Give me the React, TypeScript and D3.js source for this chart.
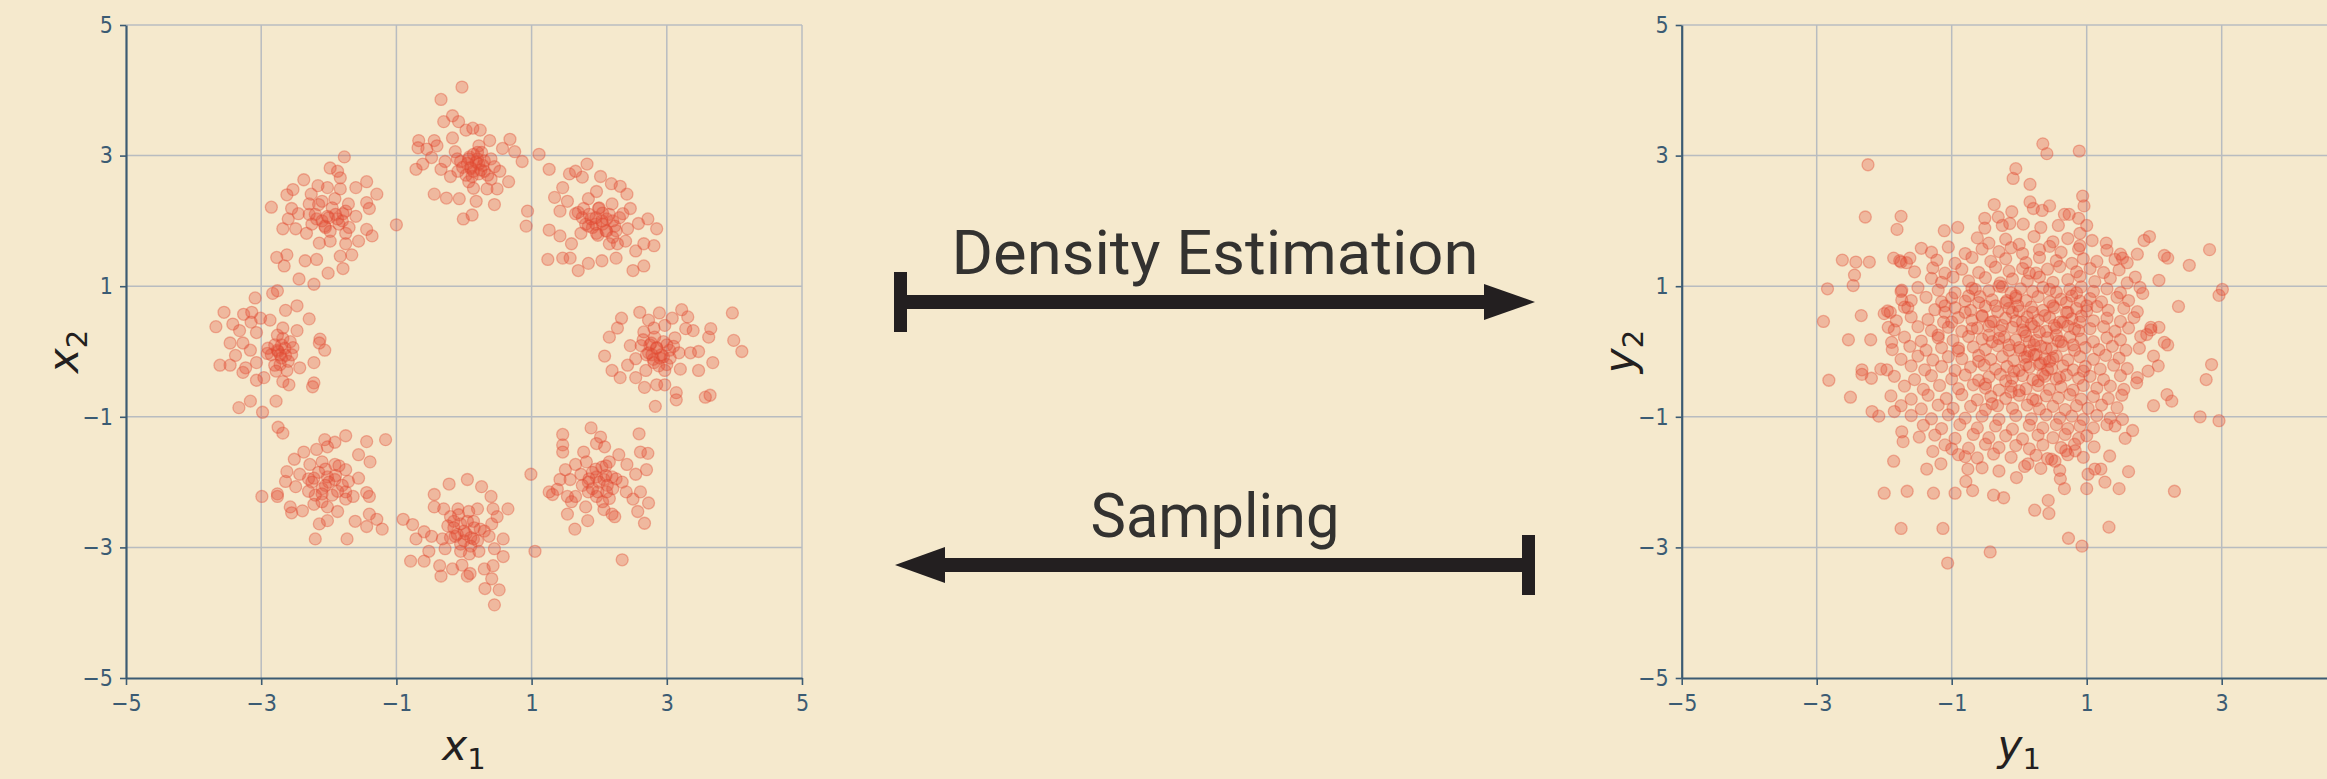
import React, { useEffect, useRef } from "react";
import * as d3 from "d3";

type Pt = [number, number];

// axis ticks and grid positions (same for both panels)
const tickValues = [-5, -3, -1, 1, 3, 5];
const tickValuesRightX = [-5, -3, -1, 1, 3]; // the 5 label falls outside the picture
const gridValues = [-3, -1, 1, 3, 5];

// --- left panel: 8 gaussians on a ring ---
const clusterTop: Pt[] = [
  [-0.03, 4.05], [-0.34, 3.86], [-0.17, 3.61], [-0.3, 3.52], [-0.08, 3.52], [0.03, 3.39], [0.13, 3.42],
  [0.24, 3.39], [-0.17, 3.27], [-0.67, 3.23], [-0.44, 3.23], [-0.68, 3.12], [-0.71, 2.79], [-0.61, 2.87],
  [-0.44, 2.41], [-0.26, 2.35], [-0.01, 2.03], [0.12, 2.09], [-0.07, 2.34], [0.18, 2.3], [0.45, 2.25],
  [0.49, 2.49], [0.4, 2.64], [0.66, 2.6], [0.68, 3.25], [0.57, 3.11], [0.75, 3.06], [0.86, 2.91],
  [0.38, 3.23], [0.22, 3.15], [-0.28, 2.91], [-0.34, 2.79], [-0.2, 2.68], [-0.09, 2.76], [0.07, 2.95],
  [0.14, 3.02], [0.22, 2.87], [0.14, 2.76], [0.03, 2.7], [0.3, 2.76], [0.45, 2.83], [0.53, 2.76],
  [0.34, 2.49], [0.14, 2.5], [-0.55, 3.1], [-0.48, 2.97], [-0.4, 3.15], [-0.13, 3.06], [-0.05, 2.91],
  [0.07, 2.6], [1.11, 3.02], [0.2, 2.95], [0.1, 2.82], [0.26, 3.05],
  [0.1, 2.8], [0.18, 2.9], [0.25, 2.78], [0.05, 2.88], [0.3, 2.92], [0.2, 3.05], [0.12, 2.68],
  [-0.02, 2.82], [0.35, 2.7], [0.28, 2.85], [0.08, 2.98], [0.22, 2.72], [-0.1, 2.95], [0.4, 2.95],
];
const clusterNE: Pt[] = [
  [1.82, 2.87], [1.26, 2.79], [1.56, 2.72], [1.65, 2.76], [1.75, 2.67], [2.02, 2.68], [1.96, 2.45],
  [2.18, 2.57], [2.31, 2.53], [2.41, 2.41], [1.46, 2.51], [1.34, 2.36], [1.53, 2.3], [1.42, 2.15],
  [1.65, 2.11], [1.77, 2.19], [1.88, 2.03], [1.99, 2.19], [2.11, 2.03], [2.23, 1.92], [2.35, 2.11],
  [2.46, 2.19], [2.58, 1.96], [2.72, 2.03], [2.85, 1.88], [2.81, 1.62], [2.66, 1.65], [2.66, 1.31],
  [2.5, 1.24], [2.54, 1.54], [2.39, 1.69], [2.15, 1.65], [2.25, 1.43], [2.04, 1.39], [1.84, 1.35],
  [1.69, 1.24], [1.57, 1.43], [1.46, 1.43], [1.24, 1.41], [1.42, 1.77], [1.26, 1.86], [1.59, 1.65],
  [1.73, 1.81], [1.96, 1.81], [2.11, 1.84], [2.27, 1.65], [1.69, 2.13], [2.04, 2.0], [2.19, 2.26],
  [1.84, 2.34], [0.94, 2.15], [0.92, 1.92], [1.84, 1.92], [2.42, 1.88], [2.2, 1.75], [1.95, 1.95],
  [1.95, 2.05], [2.05, 1.95], [1.85, 2.1], [2.15, 2.1], [2.1, 1.85], [1.9, 1.9], [2.2, 2.0],
  [1.75, 2.05], [2.0, 2.2], [2.25, 1.85], [1.8, 1.95], [2.05, 2.12], [2.3, 2.05], [1.98, 1.78],
];
const clusterE: Pt[] = [
  [3.97, 0.59], [3.99, 0.17], [4.11, 0.0], [3.65, 0.35], [3.62, 0.22], [3.68, -0.17], [3.64, -0.67],
  [3.57, -0.7], [3.14, -0.63], [3.14, -0.74], [2.83, -0.84], [3.22, 0.64], [3.31, 0.53], [3.39, 0.32],
  [3.47, 0.0], [3.47, -0.29], [3.28, 0.35], [3.08, 0.51], [2.89, 0.59], [2.73, 0.48], [2.6, 0.6],
  [2.33, 0.51], [2.15, 0.22], [2.27, 0.36], [2.08, -0.07], [2.19, -0.29], [2.31, -0.4], [2.42, -0.21],
  [2.54, -0.4], [2.62, 0.09], [2.46, 0.09], [2.73, -0.02], [2.85, 0.06], [2.95, -0.08], [3.04, 0.02],
  [3.18, -0.02], [2.81, -0.17], [2.69, -0.29], [2.97, -0.51], [2.85, -0.51], [2.67, -0.55], [3.2, -0.27],
  [2.97, -0.29], [3.12, 0.21], [2.66, 0.3], [2.97, 0.4], [2.81, 0.36], [2.54, -0.11], [3.35, -0.02],
  [2.77, 0.13], [2.9, -0.1], [2.78, -0.05], [3.0, 0.1],
  [2.85, 0.05], [2.92, -0.05], [2.75, 0.1], [3.05, -0.1], [2.8, -0.12], [2.95, 0.15], [2.7, -0.05],
  [3.1, 0.08], [2.88, -0.22], [2.65, 0.18], [3.0, -0.2], [2.82, 0.22],
];
const clusterSE: Pt[] = [
  [1.88, -1.17], [1.46, -1.27], [1.46, -1.43], [1.46, -1.54], [2.02, -1.31], [1.96, -1.41], [2.08, -1.46],
  [2.59, -1.26], [2.61, -1.54], [2.72, -1.56], [2.29, -1.58], [1.77, -1.54], [1.65, -1.73], [1.81, -1.69],
  [2.15, -1.69], [2.41, -1.73], [2.7, -1.81], [2.54, -1.88], [1.5, -1.81], [1.42, -1.96], [0.99, -1.88],
  [1.38, -2.11], [1.31, -2.19], [1.57, -1.96], [1.73, -1.88], [1.84, -2.0], [1.96, -1.92], [2.07, -1.96],
  [2.19, -1.92], [2.34, -2.0], [2.4, -2.15], [2.61, -2.15], [2.73, -2.32], [2.5, -2.26], [2.11, -2.15],
  [1.96, -2.22], [1.84, -2.15], [1.65, -2.22], [1.53, -2.22], [1.59, -2.3], [1.53, -2.49], [1.8, -2.38],
  [1.83, -2.59], [1.64, -2.72], [2.07, -2.42], [2.19, -2.49], [2.23, -2.53], [2.57, -2.45], [2.67, -2.63],
  [2.34, -3.19], [1.05, -3.06], [1.26, -2.15], [2.04, -1.77], [2.12, -2.05], [1.9, -1.85],
  [2.0, -2.0], [2.1, -1.9], [1.9, -2.1], [2.2, -2.1], [1.95, -1.8], [2.15, -2.25], [1.85, -1.95],
  [2.05, -2.3], [2.25, -1.95], [1.75, -2.05], [2.1, -1.75], [1.98, -2.15],
];
const clusterS: Pt[] = [
  [0.05, -1.96], [-0.22, -2.03], [0.26, -2.07], [-0.44, -2.19], [0.4, -2.22], [-0.44, -2.38], [-0.3, -2.41],
  [-0.09, -2.41], [0.07, -2.45], [0.2, -2.41], [0.43, -2.41], [0.65, -2.41], [0.49, -2.53], [-0.9, -2.57],
  [-0.76, -2.65], [-0.2, -2.53], [-0.24, -2.67], [-0.05, -2.64], [0.14, -2.6], [0.24, -2.72], [0.41, -2.64],
  [-0.59, -2.76], [-0.48, -2.83], [-0.71, -2.87], [-0.32, -2.87], [-0.13, -2.83], [0.03, -2.79], [0.14, -2.87],
  [0.37, -2.83], [0.58, -2.87], [-0.52, -3.06], [-0.28, -3.02], [-0.05, -3.06], [0.1, -2.98], [0.22, -3.06],
  [0.45, -3.02], [0.58, -3.14], [-0.79, -3.21], [-0.59, -3.21], [-0.36, -3.28], [-0.17, -3.33], [0.09, -3.4],
  [0.3, -3.33], [0.43, -3.28], [0.41, -3.48], [0.31, -3.63], [0.52, -3.65], [0.45, -3.88], [-0.34, -3.44],
  [-0.03, -3.27], [0.05, -3.44], [-0.15, -2.7], [0.0, -2.9],
  [0.0, -2.75], [0.1, -2.85], [-0.1, -2.8], [0.05, -2.6], [-0.05, -2.95], [0.15, -2.7], [0.2, -2.9],
  [-0.15, -2.6], [-0.2, -2.85], [0.08, -3.1], [0.3, -2.75], [-0.08, -2.5],
];
const clusterSW: Pt[] = [
  [-1.75, -1.29], [-1.16, -1.35], [-1.44, -1.38], [-2.06, -1.35], [-1.91, -1.39], [-2.37, -1.54], [-2.18, -1.5],
  [-2.02, -1.46], [-1.56, -1.58], [-1.39, -1.69], [-2.51, -1.65], [-2.28, -1.73], [-2.1, -1.69], [-1.91, -1.73],
  [-1.75, -1.81], [-2.62, -1.84], [-2.43, -1.88], [-2.22, -1.94], [-2.02, -1.92], [-1.71, -1.99], [-1.56, -1.94],
  [-2.64, -1.99], [-2.49, -2.07], [-2.3, -2.14], [-2.1, -2.18], [-1.87, -2.14], [-1.64, -2.22], [-1.44, -2.16],
  [-1.4, -2.22], [-2.76, -2.18], [-2.99, -2.22], [-2.76, -2.22], [-2.57, -2.38], [-2.39, -2.44], [-2.22, -2.34],
  [-2.02, -2.38], [-1.87, -2.45], [-2.14, -2.64], [-2.02, -2.59], [-1.61, -2.6], [-1.4, -2.49], [-1.29, -2.57],
  [-1.44, -2.68], [-1.21, -2.72], [-2.2, -2.87], [-1.73, -2.87], [-2.55, -2.47], [-1.75, -2.26], [-1.91, -1.96],
  [-2.05, -2.05], [-2.2, -2.2],
  [-2.0, -2.0], [-1.9, -1.9], [-2.1, -2.1], [-1.8, -2.05], [-2.15, -1.85], [-1.95, -2.2], [-2.25, -2.0],
  [-1.85, -1.75], [-2.05, -1.8], [-1.75, -2.15], [-2.3, -1.95], [-2.1, -2.3],
];
const clusterW: Pt[] = [
  [-3.09, 0.82], [-3.55, 0.6], [-2.83, 0.89], [-2.76, 0.93], [-2.47, 0.7], [-2.64, 0.63], [-3.26, 0.57],
  [-3.14, 0.6], [-3.01, 0.51], [-2.87, 0.48], [-2.29, 0.5], [-3.15, 0.45], [-3.42, 0.42], [-3.67, 0.38],
  [-2.68, 0.36], [-2.47, 0.32], [-2.13, 0.19], [-3.32, 0.32], [-3.07, 0.29], [-2.76, 0.25], [-2.57, 0.15],
  [-2.14, 0.13], [-3.46, 0.13], [-3.27, 0.13], [-2.06, 0.02], [-3.38, -0.06], [-3.16, 0.02], [-2.91, -0.03],
  [-2.76, 0.02], [-2.64, -0.06], [-2.53, 0.06], [-3.61, -0.21], [-3.46, -0.21], [-3.23, -0.25], [-3.07, -0.17],
  [-2.8, -0.21], [-2.62, -0.29], [-2.43, -0.25], [-2.22, -0.17], [-3.27, -0.32], [-2.96, -0.4], [-2.68, -0.46],
  [-2.59, -0.51], [-3.07, -0.44], [-2.22, -0.48], [-2.24, -0.54], [-3.16, -0.76], [-2.78, -0.76], [-3.33, -0.86],
  [-2.98, -0.93], [-2.75, -1.16], [-2.68, -1.25], [-2.72, -0.05], [-2.7, 0.1],
  [-2.75, 0.0], [-2.7, -0.1], [-2.8, 0.1], [-2.65, 0.05], [-2.72, -0.2], [-2.85, -0.05], [-2.6, -0.15],
  [-2.9, 0.05], [-2.68, 0.2], [-2.78, -0.3], [-2.55, -0.05],
];
const clusterNW: Pt[] = [
  [-1.77, 2.98], [-1.98, 2.81], [-1.87, 2.76], [-1.83, 2.66], [-2.37, 2.63], [-1.44, 2.6], [-2.16, 2.54],
  [-2.02, 2.51], [-2.53, 2.48], [-2.62, 2.4], [-2.26, 2.41], [-1.6, 2.51], [-1.29, 2.41], [-1.83, 2.49],
  [-2.85, 2.21], [-2.55, 2.19], [-2.29, 2.26], [-2.1, 2.3], [-1.91, 2.34], [-1.71, 2.26], [-1.44, 2.28],
  [-1.4, 2.19], [-2.29, 2.1], [-2.18, 2.03], [-2.02, 2.07], [-1.87, 2.03], [-1.6, 2.07], [-2.6, 2.03],
  [-2.68, 1.88], [-2.49, 1.88], [-2.33, 1.81], [-1.98, 1.84], [-1.75, 1.81], [-1.44, 1.87], [-1.36, 1.77],
  [-1.0, 1.94], [-2.14, 1.66], [-1.98, 1.69], [-1.75, 1.65], [-1.56, 1.69], [-2.77, 1.44], [-2.62, 1.48],
  [-2.35, 1.39], [-2.18, 1.41], [-1.83, 1.46], [-1.66, 1.48], [-2.66, 1.31], [-1.79, 1.27], [-2.01, 1.2],
  [-2.44, 1.11], [-2.22, 1.03], [-2.45, 2.11], [-2.06, 1.92], [-1.79, 2.11],
  [-2.0, 2.05], [-1.9, 2.1], [-2.1, 2.0], [-1.85, 1.95], [-2.2, 2.1], [-1.95, 2.2], [-2.05, 1.9],
  [-1.75, 2.15], [-2.25, 1.95], [-1.8, 2.0], [-2.15, 2.25], [-1.7, 1.9],
];

// --- right panel: standard normal sample ---
const gaussOuter: Pt[] = [
  [0.35, 3.18], [0.41, 3.03], [0.89, 3.07], [-2.24, 2.86], [-0.05, 2.8], [-0.09, 2.65], [0.16, 2.56],
  [0.94, 2.38], [0.96, 2.23], [0.16, 2.29], [0.21, 2.19], [-0.37, 2.25], [-0.11, 2.14], [0.34, 2.16],
  [0.45, 2.23], [-2.28, 2.06], [-1.75, 2.07], [-1.81, 1.87], [-1.11, 1.85], [-0.91, 1.9], [-0.31, 2.06],
  [-0.51, 2.04], [-0.51, 1.89], [-0.25, 1.93], [-0.14, 1.96], [0.06, 1.95], [0.32, 1.9], [0.67, 2.1],
  [0.74, 2.1], [0.88, 2.04], [1.0, 1.93], [0.9, 1.81], [0.58, 1.93], [1.93, 1.76], [1.85, 1.7],
  [1.29, 1.66], [2.82, 1.56], [2.52, 1.32], [2.15, 1.47], [2.2, 1.43], [1.75, 1.49], [1.53, 1.43],
  [2.07, 1.09], [1.72, 1.14], [1.79, 0.98], [1.83, 0.89], [2.36, 0.69], [2.96, 0.86], [3.01, 0.95],
  [2.85, -0.2], [2.77, -0.43], [2.68, -1.0], [2.96, -1.06], [2.26, -0.76], [2.19, -0.66], [1.99, -0.83],
  [2.3, -2.14], [2.06, -0.22], [1.99, -0.07], [2.2, 0.1], [2.15, 0.14], [2.07, 0.37], [1.95, 0.37],
  [1.89, 0.26], [1.74, -0.48], [1.91, -0.3], [-2.84, 0.96], [-2.9, 0.46], [-2.62, 1.4], [-2.42, 1.37],
  [-2.22, 1.37], [-2.44, 1.17], [-2.46, 1.01], [-2.34, 0.55], [-2.53, 0.18], [-2.33, -0.28], [-2.33, -0.35],
  [-2.19, -0.41], [-2.82, -0.44], [-2.5, -0.7], [-2.18, -0.92], [-2.08, -0.99], [-2.0, 0.58], [-1.91, 0.6],
  [-1.94, 0.37], [-1.89, 0.14], [-1.96, -0.28], [-1.86, 1.43], [-1.77, 1.39], [-1.67, 1.36], [-1.74, 0.94],
  [-1.74, 0.79], [-1.65, 0.67], [-2.0, -2.17], [-1.75, -2.71], [-1.66, -2.14], [-1.86, -1.68], [-1.74, -1.23],
  [-1.72, -1.38], [-1.48, -1.31], [-1.27, -2.17], [-1.13, -2.71], [-1.06, -3.24], [-0.95, -2.17], [-0.43, -3.07],
  [-0.38, -2.2], [-0.23, -2.24], [-0.69, -2.13], [-0.79, -1.99], [-0.76, -1.8], [-0.8, -1.61], [-1.37, -1.8],
  [-1.28, -1.53], [-1.16, -1.72], [-1.0, -1.49], [-1.85, -0.92], [1.33, -2.69], [0.73, -2.86], [0.93, -2.98],
  [0.23, -2.43], [0.43, -2.28], [0.44, -2.48], [-0.04, -1.93], [0.08, -1.76], [0.13, -1.72], [0.67, -2.1],
  [0.61, -1.95], [1.0, -2.1], [1.02, -1.88], [1.12, -1.8], [1.21, -1.8], [1.27, -2.0], [1.48, -2.1],
  [1.62, -1.84], [1.34, -1.6], [0.48, -1.65], [0.53, -1.68], [0.69, -1.52], [0.83, -1.52], [1.11, -1.46],
  [1.57, -1.33], [1.68, -1.21], [1.53, -1.04], [1.42, -1.14],
];
const gaussCore: Pt[] = [
  [-0.62, 1.74], [-0.45, 1.66], [-0.2, 1.72], [0.0, 1.64], [0.22, 1.76], [0.5, 1.68], [0.72, 1.73], [0.9, 1.62], [1.08, 1.7],
  [-1.45, 1.58], [-1.3, 1.52], [-1.05, 1.6], [-0.8, 1.5], [-0.55, 1.57], [-0.3, 1.53], [-0.12, 1.59], [0.05, 1.5],
  [0.3, 1.56], [0.45, 1.61], [0.62, 1.52], [0.88, 1.57], [1.3, 1.55], [1.5, 1.49],
  [-1.75, 1.37], [-1.62, 1.43], [-1.22, 1.4], [-0.95, 1.35], [-0.7, 1.44], [-0.42, 1.38], [-0.2, 1.42], [0.1, 1.36],
  [0.3, 1.44], [0.55, 1.39], [0.78, 1.35], [0.95, 1.42], [1.15, 1.38], [1.42, 1.41], [1.6, 1.36],
  [-1.55, 1.22], [-1.28, 1.28], [-1.1, 1.2], [-0.85, 1.26], [-0.6, 1.21], [-0.35, 1.29], [-0.15, 1.23], [0.05, 1.27],
  [0.25, 1.2], [0.42, 1.26], [0.6, 1.3], [0.85, 1.22], [1.05, 1.27], [1.25, 1.21], [1.48, 1.25],
  [-1.3, 1.12], [-1.15, 1.06], [-0.98, 1.14], [-0.75, 1.08], [-0.5, 1.13], [-0.28, 1.05], [-0.1, 1.11], [0.12, 1.08],
  [0.3, 1.14], [0.5, 1.06], [0.72, 1.1], [0.9, 1.15], [1.12, 1.07], [1.35, 1.12], [1.6, 1.05],
  [-1.75, 0.92], [-1.5, 0.98], [-1.2, 0.94], [-0.95, 0.9], [-0.7, 0.97], [-0.45, 0.93], [-0.25, 0.99], [-0.12, 0.9],
  [0.02, 0.96], [0.2, 0.92], [0.35, 0.98], [0.55, 0.91], [0.75, 0.95], [0.92, 0.99], [1.1, 0.92], [1.3, 0.96], [1.5, 0.9],
  [-1.6, 0.78], [-1.38, 0.83], [-1.15, 0.76], [-1.0, 0.82], [-0.8, 0.77], [-0.58, 0.84], [-0.4, 0.79], [-0.2, 0.75],
  [-0.05, 0.82], [0.1, 0.78], [0.28, 0.84], [0.45, 0.76], [0.62, 0.8], [0.78, 0.85], [0.9, 0.77], [1.05, 0.81],
  [1.22, 0.76], [1.45, 0.83], [1.62, 0.78],
  [-1.95, 0.62], [-1.7, 0.68], [-1.25, 0.64], [-1.1, 0.6], [-0.95, 0.67], [-0.72, 0.63], [-0.5, 0.69], [-0.32, 0.61],
  [-0.15, 0.66], [0.0, 0.62], [0.18, 0.68], [0.35, 0.63], [0.52, 0.67], [0.7, 0.6], [0.85, 0.66], [1.0, 0.62],
  [1.15, 0.69], [1.32, 0.63], [1.55, 0.66], [1.75, 0.61],
  [-1.82, 0.47], [-1.6, 0.53], [-1.35, 0.49], [-1.12, 0.45], [-0.9, 0.52], [-0.7, 0.48], [-0.55, 0.54], [-0.38, 0.46],
  [-0.2, 0.51], [-0.05, 0.47], [0.12, 0.53], [0.28, 0.48], [0.45, 0.52], [0.6, 0.45], [0.78, 0.5], [0.92, 0.54],
  [1.1, 0.47], [1.3, 0.51], [1.5, 0.46], [1.7, 0.52],
  [-1.85, 0.33], [-1.5, 0.38], [-1.3, 0.32], [-1.05, 0.37], [-0.85, 0.31], [-0.62, 0.36], [-0.45, 0.39], [-0.28, 0.32],
  [-0.1, 0.37], [0.05, 0.33], [0.22, 0.38], [0.4, 0.31], [0.55, 0.36], [0.72, 0.39], [0.88, 0.32], [1.05, 0.35],
  [1.25, 0.38], [1.42, 0.31], [1.62, 0.36], [1.95, 0.33],
  [-2.2, 0.18], [-1.7, 0.22], [-1.45, 0.16], [-1.2, 0.21], [-0.98, 0.17], [-0.75, 0.23], [-0.55, 0.19], [-0.4, 0.15],
  [-0.22, 0.22], [-0.05, 0.18], [0.1, 0.24], [0.25, 0.17], [0.42, 0.21], [0.58, 0.16], [0.75, 0.22], [0.92, 0.19],
  [1.1, 0.15], [1.3, 0.21], [1.5, 0.18], [1.8, 0.23],
  [-1.88, 0.03], [-1.62, 0.08], [-1.38, 0.02], [-1.15, 0.06], [-0.9, 0.01], [-0.68, 0.07], [-0.5, 0.03], [-0.32, 0.09],
  [-0.15, 0.02], [0.0, 0.06], [0.15, 0.01], [0.32, 0.08], [0.48, 0.04], [0.65, 0.09], [0.82, 0.02], [0.98, 0.06],
  [1.18, 0.03], [1.38, 0.08], [1.58, 0.02], [1.78, 0.05],
  [-1.75, -0.12], [-1.5, -0.07], [-1.28, -0.13], [-1.05, -0.08], [-0.85, -0.11], [-0.6, -0.06], [-0.42, -0.12],
  [-0.25, -0.08], [-0.08, -0.14], [0.08, -0.09], [0.22, -0.05], [0.38, -0.11], [0.55, -0.07], [0.72, -0.13],
  [0.9, -0.08], [1.1, -0.12], [1.28, -0.06], [1.48, -0.1],
  [-2.05, -0.27], [-1.6, -0.22], [-1.4, -0.28], [-1.15, -0.23], [-0.95, -0.29], [-0.72, -0.24], [-0.52, -0.21],
  [-0.35, -0.27], [-0.18, -0.23], [0.0, -0.29], [0.15, -0.24], [0.3, -0.2], [0.48, -0.26], [0.65, -0.22],
  [0.8, -0.28], [0.98, -0.23], [1.2, -0.27], [1.4, -0.21], [1.6, -0.26],
  [-1.85, -0.38], [-1.55, -0.43], [-1.3, -0.37], [-1.0, -0.42], [-0.8, -0.36], [-0.6, -0.44], [-0.45, -0.39],
  [-0.28, -0.35], [-0.1, -0.41], [0.05, -0.37], [0.2, -0.43], [0.38, -0.38], [0.55, -0.42], [0.7, -0.36],
  [0.88, -0.41], [1.05, -0.38], [1.25, -0.43], [1.5, -0.37], [1.75, -0.4],
  [-1.7, -0.53], [-1.42, -0.58], [-1.18, -0.52], [-0.9, -0.57], [-0.68, -0.51], [-0.5, -0.56], [-0.3, -0.59],
  [-0.12, -0.53], [0.1, -0.57], [0.28, -0.52], [0.45, -0.58], [0.62, -0.54], [0.8, -0.59], [0.95, -0.52],
  [1.15, -0.56], [1.35, -0.53], [1.55, -0.58],
  [-1.9, -0.68], [-1.6, -0.73], [-1.35, -0.67], [-1.08, -0.72], [-0.85, -0.66], [-0.62, -0.74], [-0.42, -0.69],
  [-0.2, -0.72], [0.0, -0.67], [0.2, -0.73], [0.4, -0.68], [0.58, -0.71], [0.75, -0.66], [0.92, -0.73],
  [1.1, -0.69], [1.32, -0.72], [1.52, -0.67],
  [-1.75, -0.83], [-1.45, -0.88], [-1.2, -0.82], [-0.98, -0.87], [-0.72, -0.84], [-0.5, -0.89], [-0.32, -0.83],
  [-0.1, -0.87], [0.12, -0.82], [0.3, -0.88], [0.5, -0.84], [0.68, -0.89], [0.85, -0.83], [1.02, -0.87],
  [1.22, -0.82], [1.45, -0.86],
  [-1.6, -0.98], [-1.3, -1.03], [-1.05, -0.97], [-0.8, -1.02], [-0.55, -0.99], [-0.3, -1.04], [-0.05, -0.98],
  [0.18, -1.03], [0.4, -0.97], [0.6, -1.02], [0.78, -0.99], [0.95, -1.04], [1.15, -0.98], [1.35, -1.02],
  [-1.42, -1.13], [-1.15, -1.18], [-0.88, -1.12], [-0.62, -1.17], [-0.35, -1.14], [-0.1, -1.19], [0.15, -1.13],
  [0.35, -1.17], [0.55, -1.12], [0.72, -1.18], [0.9, -1.14], [1.1, -1.17], [1.3, -1.12],
  [-1.25, -1.28], [-0.95, -1.33], [-0.68, -1.27], [-0.45, -1.32], [-0.2, -1.29], [0.05, -1.34], [0.28, -1.28],
  [0.5, -1.32], [0.68, -1.27], [0.88, -1.33], [1.0, -1.29],
  [-1.1, -1.43], [-0.75, -1.48], [-0.5, -1.42], [-0.3, -1.47], [-0.05, -1.44], [0.15, -1.49], [0.35, -1.43],
  [0.62, -1.47], [0.82, -1.42],
  [-0.9, -1.58], [-0.62, -1.63], [-0.38, -1.57], [-0.12, -1.62], [0.25, -1.59], [0.42, -1.64], [0.72, -1.58], [0.95, -1.62],
  [-0.55, -1.78], [-0.3, -1.83], [0.32, -1.79], [0.6, -1.82],
];
// extra points where the sample is densest
const gaussCenter: Pt[] = [
  [-0.55, 0.55], [-0.45, 0.25], [-0.35, 0.7], [-0.25, 0.4], [-0.15, 0.1], [-0.05, 0.85], [0.05, 0.45], [0.1, -0.2],
  [0.15, 0.15], [0.2, 0.6], [0.25, -0.05], [0.3, 0.3], [0.35, -0.35], [0.4, 0.05], [0.45, -0.15], [0.5, 0.7],
  [0.55, 0.25], [0.6, -0.4], [0.65, 0.45], [0.7, 0.75], [-0.6, -0.15], [-0.7, 0.35], [-0.8, 0.6], [-0.9, 0.05],
  [-1.0, 0.45], [0.8, 0.1], [0.9, 0.45], [-0.2, -0.45], [0.0, -0.6], [0.25, -0.75], [-0.4, -0.8], [0.45, 0.95],
  [-0.3, 1.0], [0.15, 1.2], [-0.65, 0.95], [0.85, 0.9], [1.0, 0.7], [-1.1, 0.7], [-1.2, 0.25], [-0.1, 0.6],
  [0.02, 0.02], [0.12, -0.08], [0.22, 0.1], [0.32, -0.18], [0.42, -0.28], [0.08, 0.3], [-0.08, -0.3], [0.28, -0.45],
  [0.5, -0.1], [0.62, 0.15], [-0.3, 0.2], [-0.42, 0.45], [-0.6, 0.75], [-0.75, 0.85], [-0.18, 0.78], [0.38, 0.55],
  [0.72, 0.6], [0.82, 0.35], [0.95, -0.3], [-0.5, -0.5], [-0.12, -0.62], [0.18, 0.42], [-0.02, 0.7], [0.52, 0.4],
];

const ringPoints: Pt[] = [
  ...clusterTop, ...clusterNE, ...clusterE, ...clusterSE,
  ...clusterS, ...clusterSW, ...clusterW, ...clusterNW,
];
const normalPoints: Pt[] = [...gaussOuter, ...gaussCore, ...gaussCenter];

const W = 2327;
const H = 779;
const bg = "#f5e9cd";
const axisColor = "#3b5b73";
const gridColor = "#b8bcc0";
const dotColor = "#e24a33";
const inkColor = "#231f20";
const tickFont = "'DejaVu Sans Condensed', 'Liberation Sans Narrow', Roboto, sans-serif";
const labelFont = "'DejaVu Sans', 'Open Sans', sans-serif";

function drawPanel(svg: any, points: Pt[], x: any, y: any, sym: string, xTicks: number[]) {
  const g = svg.append("g");
  const [x0, x1] = x.range();
  const [y0, y1] = y.range();

  // grid
  g.append("g")
    .selectAll("line")
    .data(gridValues)
    .join("line")
    .attr("x1", (d: number) => x(d))
    .attr("x2", (d: number) => x(d))
    .attr("y1", y0)
    .attr("y2", y1)
    .attr("stroke", gridColor)
    .attr("stroke-width", 1.5);
  g.append("g")
    .selectAll("line")
    .data(gridValues)
    .join("line")
    .attr("x1", x0)
    .attr("x2", x1)
    .attr("y1", (d: number) => y(d))
    .attr("y2", (d: number) => y(d))
    .attr("stroke", gridColor)
    .attr("stroke-width", 1.5);

  // points
  g.append("g")
    .selectAll("circle")
    .data(points)
    .join("circle")
    .attr("cx", (d: Pt) => x(d[0]))
    .attr("cy", (d: Pt) => y(d[1]))
    .attr("r", 6)
    .attr("fill", dotColor)
    .attr("fill-opacity", 0.3)
    .attr("stroke", dotColor)
    .attr("stroke-opacity", 0.38)
    .attr("stroke-width", 1.3);

  // axes
  const fmt = (d: number) => (d < 0 ? "\u2212" + Math.abs(d) : String(d));
  const ax = g.append("g")
    .attr("transform", `translate(0,${y0})`)
    .call(d3.axisBottom(x).tickValues(xTicks).tickSize(7).tickSizeOuter(0).tickPadding(10).tickFormat(fmt));
  const ay = g.append("g")
    .attr("transform", `translate(${x0},0)`)
    .call(d3.axisLeft(y).tickValues(tickValues).tickSize(6).tickSizeOuter(0).tickPadding(7).tickFormat(fmt));

  [ax, ay].forEach((a) => {
    a.select(".domain").attr("stroke", axisColor).attr("stroke-width", 2.2);
    a.selectAll(".tick line").attr("stroke", axisColor).attr("stroke-width", 1.6);
    a.selectAll(".tick text")
      .attr("fill", axisColor)
      .attr("font-family", tickFont)
      .attr("font-size", 23);
  });

  // axis titles
  const cx = (x0 + x1) / 2;
  const cy = (y0 + y1) / 2;
  const xt = g.append("text")
    .attr("x", cx)
    .attr("y", 760)
    .attr("text-anchor", "middle")
    .attr("font-family", labelFont)
    .attr("fill", inkColor);
  xt.append("tspan").attr("font-style", "italic").attr("font-size", 42).text(sym);
  xt.append("tspan").attr("font-size", 29).attr("dy", 9).text("1");

  const yt = g.append("text")
    .attr("transform", `translate(${x0 - 48},${cy}) rotate(-90)`)
    .attr("text-anchor", "middle")
    .attr("font-family", labelFont)
    .attr("fill", inkColor);
  yt.append("tspan").attr("font-style", "italic").attr("font-size", 42).text(sym);
  yt.append("tspan").attr("font-size", 29).attr("dy", 9).text("2");
}

const App = () => {
  const ref = useRef<SVGSVGElement>(null);

  useEffect(() => {
    const svg = d3.select(ref.current);
    svg.selectAll("*").remove();

    svg.append("rect").attr("width", W).attr("height", H).attr("fill", bg);

    const xL = d3.scaleLinear().domain([-5, 5]).range([126, 802]);
    const xR = d3.scaleLinear().domain([-5, 5]).range([1681.7, 2356.7]);
    const yS = d3.scaleLinear().domain([-5, 5]).range([678, 25]);

    drawPanel(svg, ringPoints, xL, yS, "x", tickValues);
    drawPanel(svg, normalPoints, xR, yS, "y", tickValuesRightX);

    // arrows between the panels
    const arrows = svg.append("g").attr("fill", inkColor);
    // density estimation: left -> right
    arrows.append("rect").attr("x", 894).attr("y", 272).attr("width", 13).attr("height", 60);
    arrows.append("rect").attr("x", 905).attr("y", 295).attr("width", 582).attr("height", 14);
    arrows.append("path").attr("d", "M1484,284 L1535,302 L1484,320 Z");
    // sampling: right -> left
    arrows.append("rect").attr("x", 1522).attr("y", 535).attr("width", 13).attr("height", 60);
    arrows.append("rect").attr("x", 942).attr("y", 558).attr("width", 582).attr("height", 14);
    arrows.append("path").attr("d", "M945,547 L895,565 L945,583 Z");

    svg.append("text")
      .attr("x", 1215)
      .attr("y", 274)
      .attr("text-anchor", "middle")
      .attr("font-family", "Roboto, sans-serif")
      .attr("font-size", 62)
      .attr("fill", "#333230")
      .attr("textLength", 527)
      .attr("lengthAdjust", "spacingAndGlyphs")
      .text("Density Estimation");
    svg.append("text")
      .attr("x", 1215)
      .attr("y", 537)
      .attr("text-anchor", "middle")
      .attr("font-family", "Roboto, sans-serif")
      .attr("font-size", 62)
      .attr("fill", "#333230")
      .attr("textLength", 249)
      .attr("lengthAdjust", "spacingAndGlyphs")
      .text("Sampling");
  }, []);

  return (
    <svg
      ref={ref}
      width={W}
      height={H}
      style={{ position: "absolute", left: 0, top: 0, display: "block" }}
    />
  );
};

export default App;
